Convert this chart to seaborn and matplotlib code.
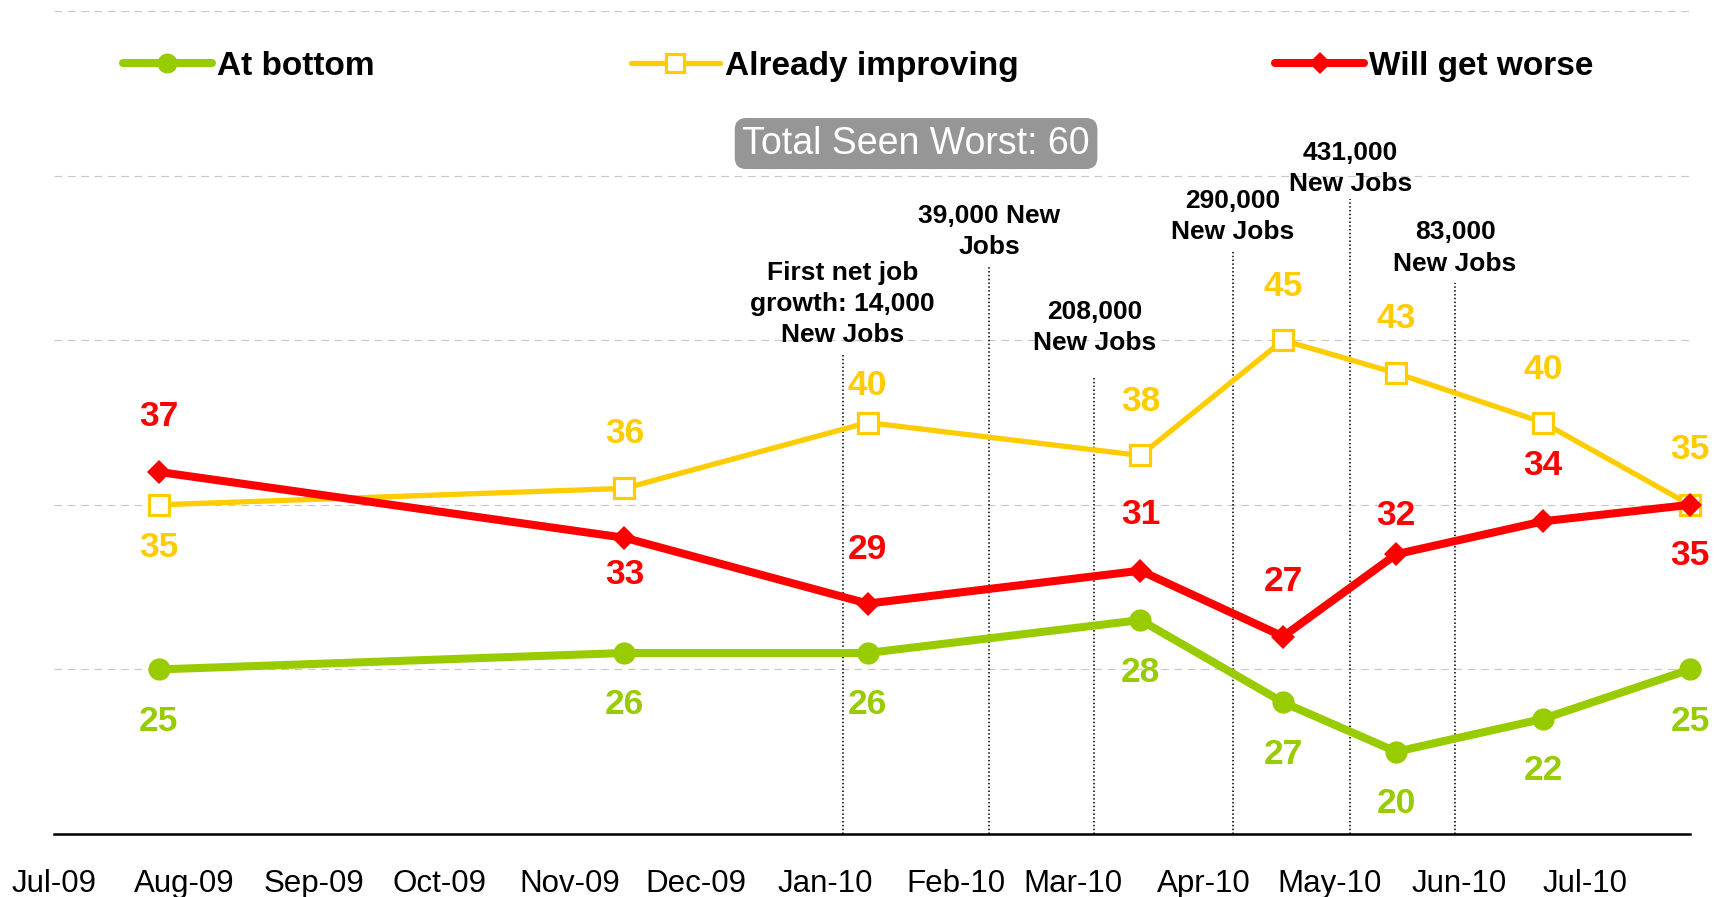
import pandas as pd
import matplotlib
matplotlib.use('Agg')
import matplotlib.pyplot as plt
import matplotlib.dates as mdates
from matplotlib import font_manager
import seaborn as sns

# Survey dates
survey_dates = pd.to_datetime(['2009-07-26', '2009-11-14', '2010-01-11', '2010-03-17',
                               '2010-04-20', '2010-05-17', '2010-06-21', '2010-07-26'])

# Values as they are drawn on the chart
at_bottom = [25, 26, 26, 28, 23, 20, 22, 25]
already_improving = [35, 36, 40, 38, 45, 43, 40, 35]
will_get_worse = [37, 33, 29, 31, 27, 32, 34, 35]

# Numbers printed next to the points (5th green point says 27 but sits at ~23)
at_bottom_labels = ['25', '26', '26', '28', '27', '20', '22', '25']
already_improving_labels = ['35', '36', '40', '38', '45', '43', '40', '35']
will_get_worse_labels = ['37', '33', '29', '31', '27', '32', '34', '35']

# Monthly jobs reports marked with dotted lines
job_dates = pd.to_datetime(['2010-01-05', '2010-02-09', '2010-03-06',
                            '2010-04-08', '2010-05-06', '2010-05-31'])
job_texts = ['First net job\ngrowth: 14,000\nNew Jobs', '39,000 New\nJobs', '208,000\nNew Jobs',
             '290,000\nNew Jobs', '431,000\nNew Jobs', '83,000\nNew Jobs']

total_seen_worst = 'Total Seen Worst: 60'

# layout for the annotations (data units / pixel offsets)
job_line_tops = [44.1, 49.6, 42.8, 50.5, 53.6, 48.5]
job_text_y = [47.2, 51.6, 45.75, 52.5, 55.45, 50.6]
green_offsets = [-52] * 8
yellow_offsets = [-43, 55, 37, 54, 54, 55, 53, 55]
red_offsets = [55, -37, 54, 56, 55, 39, 56, -51]

GREEN = '#99CC00'
YELLOW = '#FFCC00'
RED = '#FF0000'

sns.set_style('white')
plt.rcParams['font.family'] = ['Liberation Sans', 'DejaVu Sans']
plt.rcParams['text.color'] = 'black'

fig = plt.figure(figsize=(17.25, 8.97), dpi=100)
ax = fig.add_axes([0.0312, 0.0702, 0.9485, 0.9175])

sns.lineplot(x=survey_dates, y=at_bottom, ax=ax, color=GREEN, linewidth=5.8,
             marker='o', markersize=16, markeredgewidth=0, label='At bottom', clip_on=False, zorder=3)
sns.lineplot(x=survey_dates, y=already_improving, ax=ax, color=YELLOW, linewidth=3.8,
             marker='s', markersize=14, markerfacecolor='white', markeredgecolor=YELLOW,
             markeredgewidth=2.3, label='Already improving', clip_on=False, zorder=4)
sns.lineplot(x=survey_dates, y=will_get_worse, ax=ax, color=RED, linewidth=5.8,
             marker='D', markersize=12, markeredgewidth=0, label='Will get worse', clip_on=False, zorder=5)

# point labels
for vals, labs, offs, col in [(at_bottom, at_bottom_labels, green_offsets, GREEN),
                              (already_improving, already_improving_labels, yellow_offsets, YELLOW),
                              (will_get_worse, will_get_worse_labels, red_offsets, RED)]:
    for d, v, lab, off in zip(survey_dates, vals, labs, offs):
        ax.annotate(lab, (d, v), xytext=(0, off), textcoords='offset pixels',
                    ha='center', va='center', fontsize=25.5, fontweight='bold', color=col,
                    annotation_clip=False)

# jobs report lines and notes
for d, top, ty, txt in zip(job_dates, job_line_tops, job_text_y, job_texts):
    ax.plot([d, d], [15, top], color='black', linewidth=1.1, linestyle=(0, (1, 1.5)), zorder=2)
    ax.text(d, ty, txt, ha='center', va='center', multialignment='center',
            fontsize=19, fontweight='bold', linespacing=1.38, color='black')

ax.text(0.527, 0.839, total_seen_worst, transform=ax.transAxes, ha='center', va='center',
        color='white', fontsize=27,
        bbox=dict(boxstyle='round,pad=0.2,rounding_size=0.3', fc='#969696', ec='none'))

# axes
ax.set_xlim(pd.Timestamp('2009-07-01'), survey_dates[-1])
ax.set_ylim(15, 65)
ax.set_yticks([15, 25, 35, 45, 55, 65])
ax.set_yticklabels([])
ax.tick_params(axis='y', length=0)
ax.grid(axis='y', color='#C8C8C8', linewidth=0.8, linestyle=(0, (7, 5)))
ax.grid(axis='x', visible=False)
ax.set_axisbelow(True)

ax.xaxis.set_major_locator(mdates.MonthLocator())
ax.xaxis.set_major_formatter(mdates.DateFormatter('%b-%y'))
ax.tick_params(axis='x', direction='out', length=7.2, width=1.45, color='black', pad=18,
               labelcolor='black')

names = {f.name for f in font_manager.fontManager.ttflist}
if 'Liberation Sans Narrow' in names:
    plt.setp(ax.get_xticklabels(), family='Liberation Sans Narrow', size=27)
else:
    plt.setp(ax.get_xticklabels(), size=22.5)

for s in ['left', 'top', 'right']:
    ax.spines[s].set_visible(False)
ax.spines['bottom'].set_color('black')
ax.spines['bottom'].set_linewidth(1.8)

ax.set_xlabel('')
ax.set_ylabel('')

ax.legend(loc='center left', bbox_to_anchor=(0.042, 0.933), ncol=3, frameon=False,
          prop={'weight': 'bold', 'size': 24}, handlelength=2.67, handletextpad=0.15,
          columnspacing=7.7, borderpad=0, borderaxespad=0, markerscale=0.9, labelcolor='black')

fig.savefig('out.png', dpi=100)
